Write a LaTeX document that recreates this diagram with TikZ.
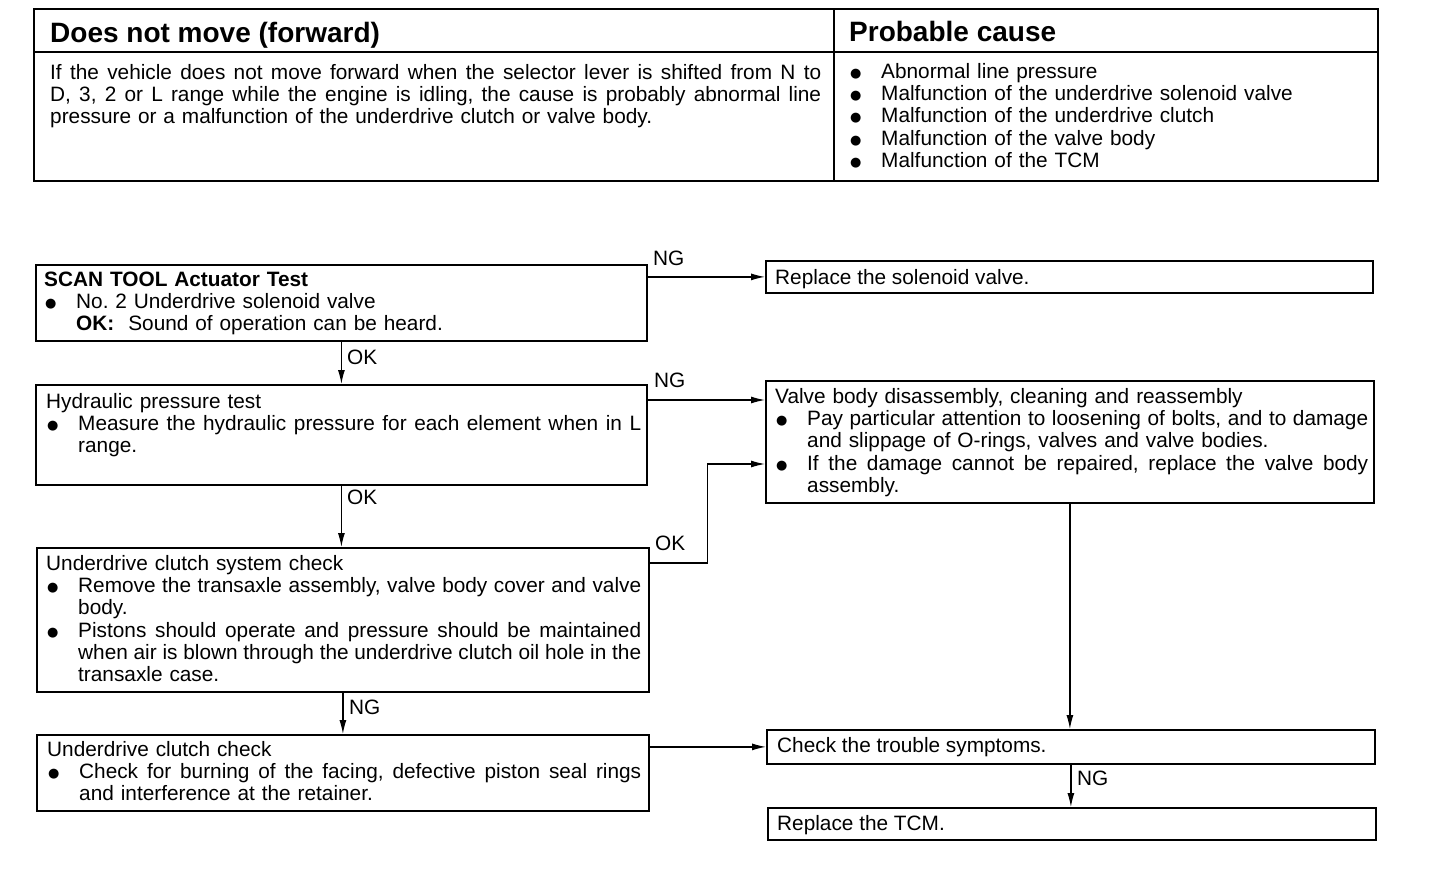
\documentclass[tikz,border=0pt]{standalone}
\usepackage{fontspec}
\setmainfont{Liberation Sans}
\newfontfamily\bulfont{DejaVu Sans}
\usetikzlibrary{arrows.meta,calc}
\newlength\bind
\setlength\bind{32pt}
\newlength\lw
\newcommand\mybul{\makebox[\bind][l]{\hspace*{1pt}\raisebox{1pt}{\bulfont\fontsize{13}{13}\selectfont ●}}}
\newcommand\jset{\spaceskip=0.278em plus 1.5em minus 0.12em\xspaceskip=\spaceskip}
\newcommand\jline[1]{{\jset\noindent\makebox[\lw][s]{#1}}\par}
\newcommand\rline[1]{\noindent #1\par}
\newcommand\bjline[1]{{\jset\noindent\mybul\makebox[\dimexpr\lw-\bind\relax][s]{#1}}\par}
\newcommand\brline[1]{\noindent\mybul#1\par}
\newcommand\cjline[1]{{\jset\noindent\hspace*{\bind}\makebox[\dimexpr\lw-\bind\relax][s]{#1}}\par}
\newcommand\crline[1]{\noindent\hspace*{\bind}#1\par}
\begin{document}
\begin{tikzpicture}[x=1pt,y=-1pt,
  flowbox/.style={draw, line width=1.8pt, inner sep=0pt, anchor=north west},
  tblbox/.style={draw, line width=2.4pt, inner sep=0pt, anchor=north west},
  tblline/.style={line width=2pt},
  txt/.style={inner sep=0pt, anchor=base west, font=\fontsize{20.8}{22.2}\selectfont\frenchspacing},
  ttl/.style={inner sep=0pt, anchor=base west, font=\fontsize{28}{30}\selectfont\bfseries},
  lab/.style={inner sep=0pt, anchor=base west, font=\fontsize{20.8}{22.2}\selectfont},
  arr/.style={line width=1.2pt, -{Latex[length=14pt,width=7pt]}},
]
\useasboundingbox (0,0) rectangle (1456,878);

% ---- top table ----
\node[tblbox, minimum width=1344pt, minimum height=172pt] (tbl) at (33,8) {};
\coordinate (hl) at ([yshift=-44pt]tbl.north west);
\coordinate (hr) at ([yshift=-44pt]tbl.north east);
\draw[tblline] (hl) -- (hr);
\coordinate (dt) at ([xshift=801pt]tbl.north west);
\coordinate (db) at ([xshift=801pt]tbl.south west);
\draw[tblline] (dt) -- (db);

\node[ttl] (t1) at (50,42) {Does not move (forward)};
\node[ttl] (t2) at (849,41) {Probable cause};

\node[txt, text width=771pt] (body) at (50,79.5) {\setlength\lw{771pt}%
\jline{If the vehicle does not move forward when the selector lever is shifted from N to}
\jline{D, 3, 2 or L range while the engine is idling, the cause is probably abnormal line}
\rline{pressure or a malfunction of the underdrive clutch or valve body.}};

\node[txt, text width=520pt] (pc) at (849,78.5) {%
\brline{Abnormal line pressure}
\brline{Malfunction of the underdrive solenoid valve}
\brline{Malfunction of the underdrive clutch}
\brline{Malfunction of the valve body}
\brline{Malfunction of the TCM}};

% ---- flow boxes ----
\node[flowbox, minimum width=611pt, minimum height=76pt] (scan) at (35,264) {};
\node[flowbox, minimum width=611pt, minimum height=100pt] (hyd) at (35,384) {};
\node[flowbox, minimum width=612pt, minimum height=144pt] (ucs) at (36,547) {};
\node[flowbox, minimum width=612pt, minimum height=76pt] (uc) at (36,734) {};
\node[flowbox, minimum width=607pt, minimum height=32pt] (rsv) at (765,260) {};
\node[flowbox, minimum width=608pt, minimum height=122pt] (vb) at (765,380) {};
\node[flowbox, minimum width=608pt, minimum height=34pt] (cts) at (766,729) {};
\node[flowbox, minimum width=608pt, minimum height=32pt] (tcm) at (767,807) {};

% ---- box texts ----
\node[txt, text width=600pt] (scantxt) at (44,286.5) {%
\rline{\textbf{SCAN TOOL Actuator Test}}
\brline{No. 2 Underdrive solenoid valve}
\crline{\textbf{OK:}\hspace{14pt}Sound of operation can be heard.}};

\node[txt, text width=595pt] (hydtxt) at (46,408.5) {\setlength\lw{595pt}%
\rline{Hydraulic pressure test}
\bjline{Measure the hydraulic pressure for each element when in L}
\crline{range.}};

\node[txt, text width=595pt] (ucstxt) at (46,570.5) {\setlength\lw{595pt}%
\rline{Underdrive clutch system check}
\bjline{Remove the transaxle assembly, valve body cover and valve}
\crline{body.}
\bjline{Pistons should operate and pressure should be maintained}
\cjline{when air is blown through the underdrive clutch oil hole in the}
\crline{transaxle case.}};

\node[txt, text width=594pt] (uctxt) at (47,756.5) {\setlength\lw{594pt}%
\rline{Underdrive clutch check}
\bjline{Check for burning of the facing, defective piston seal rings}
\crline{and interference at the retainer.}};

\node[txt] (rsvtxt) at (775,284.5) {Replace the solenoid valve.};

\node[txt, text width=593pt] (vbtxt) at (775,403.5) {\setlength\lw{593pt}%
\rline{Valve body disassembly, cleaning and reassembly}
\bjline{Pay particular attention to loosening of bolts, and to damage}
\crline{and slippage of O-rings, valves and valve bodies.}
\bjline{If the damage cannot be repaired, replace the valve body}
\crline{assembly.}};

\node[txt] (ctstxt) at (777,752.5) {Check the trouble symptoms.};
\node[txt] (tcmtxt) at (777,830.5) {Replace the TCM.};

% ---- connectors ----
\draw[arr] (rsv.west -| scan.east) -- (rsv.west);
\draw[arr] (scan.south) -- (scan.south |- hyd.north);
\coordinate (h1) at ([yshift=-16pt]hyd.north east);
\draw[arr] (h1) -- (h1 -| vb.west);
\draw[arr] (hyd.south) -- (hyd.south |- ucs.north);
\coordinate (u1) at ([yshift=-16pt]ucs.north east);
\coordinate (v1) at ([yshift=-84pt]vb.north west);
\draw[arr] (u1) -- ++(58,0) |- (v1);
\draw[arr] (ucs.south) -- (ucs.south |- uc.north);
\draw[arr] (cts.west -| uc.east) -- (cts.west);
\draw[arr] (vb.south) -- (vb.south |- cts.north);
\draw[arr] (cts.south) -- (cts.south |- tcm.north);

% ---- labels ----
\node[lab] (ng1) at (653,265.5) {NG};
\node[lab] (ok1) at (347,364.5) {OK};
\node[lab] (ng2) at (654,387.5) {NG};
\node[lab] (ok2) at (347,504.5) {OK};
\node[lab] (ok3) at (655,550.5) {OK};
\node[lab] (ng3) at (349,714.5) {NG};
\node[lab] (ng4) at (1077,785.5) {NG};
\end{tikzpicture}
\end{document}
